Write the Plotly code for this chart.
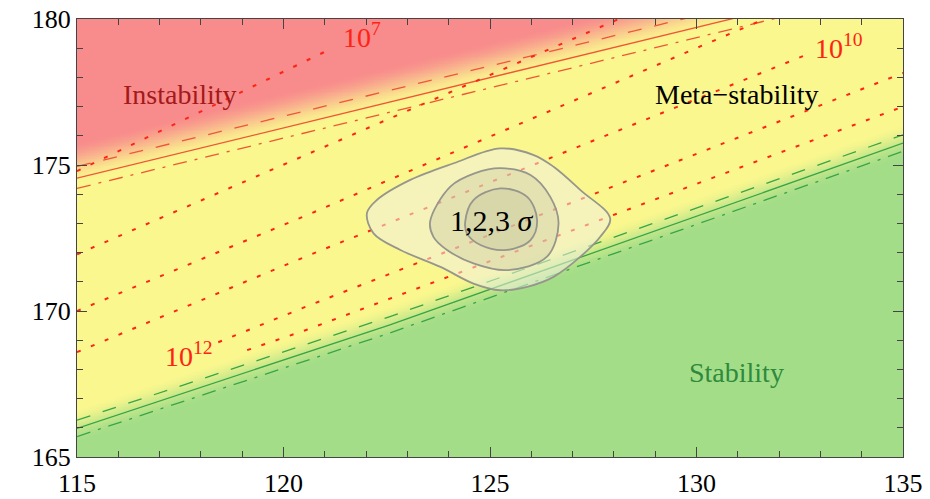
import numpy as np
import plotly.graph_objects as go

# ---------------- data ----------------
x_ticks = [115, 120, 125, 130, 135]
y_ticks = [165, 170, 175, 180]

# instability boundary (red) and its uncertainty band
red_x = [115, 132]
red_solid = [174.55, 180.40]
red_dash = [174.95, 180.80]
red_dashdot = [174.20, 180.05]

# absolute-stability boundary (green) and its uncertainty band
green_x = [115, 122.56, 135]
green_solid = [165.98, 169.52, 175.75]
green_dash = [166.26, 169.80, 176.03]
green_dashdot = [165.70, 169.24, 175.47]

# region edges used for the shaded background
unstable_edge_x = [115, 132]
unstable_edge_y = [175.10, 180.95]
stable_edge_x = [115, 122.56, 135]
stable_edge_y = [166.10, 169.64, 175.87]

# instability-scale contours (dotted)
lam7_x = [115, 121.21]
lam7_y = [174.79, 179.02]
lam8_x = [115, 127.14, 128.12]
lam8_y = [171.94, 179.40, 180.0]
lam9_x = [115, 120.48, 130.09, 131.65]
lam9_y = [170.0, 173.23, 179.06, 180.0]
lam10_x = [115, 120.53, 132.76]
lam10_y = [168.59, 171.86, 178.83]
lam11_x = [118.42, 120.53, 135]
lam11_y = [168.93, 170.14, 178.15]
lam12_x = [119.12, 120.53, 135]
lam12_y = [168.66, 169.34, 177.0]

# 1,2,3 sigma contours
s3_x = [122.02, 122.26, 123.07, 124.12, 125.25, 126.06, 126.54, 127.19, 127.91,
        127.67, 127.19, 126.54, 125.90, 125.25, 124.60, 123.80, 122.83, 122.18]
s3_y = [173.35, 173.80, 174.49, 175.06, 175.57, 175.34, 174.94, 174.14, 173.17,
        172.54, 171.86, 171.17, 170.83, 170.71, 170.94, 171.51, 172.09, 172.66]
s2_x = [123.55, 124.04, 124.64, 125.25, 125.98, 126.46, 126.66, 126.38, 125.41,
        124.60, 123.96, 123.63]
s2_y = [173.06, 174.26, 174.72, 174.89, 174.66, 173.91, 173.00, 171.86, 171.40,
        171.63, 172.09, 172.54]
s1_x = [124.40, 124.60, 125.25, 125.90, 126.14, 125.98, 125.41, 124.77, 124.44]
s1_y = [173.06, 173.80, 174.20, 173.91, 173.11, 172.43, 172.09, 172.26, 172.66]

# ---------------- styling ----------------
FONT = "Liberation Serif, Times New Roman, serif"
RED_LINE = "rgb(240,85,55)"
GREEN_LINE = "rgb(55,165,70)"
DOT_RED = "rgb(255,35,20)"
C_GREEN = "rgb(164,221,136)"
C_YELLOW = "rgb(250,247,142)"
C_RED = "rgb(248,139,140)"


def smooth(d, w):
    t = np.clip((d + w) / (2 * w), 0, 1)
    return t * t * (3 - 2 * t)


gx = np.linspace(115, 135, 401)
gy = np.linspace(165, 180, 301)
X, Y = np.meshgrid(gx, gy)
d_red = Y - np.interp(X, unstable_edge_x, unstable_edge_y)
d_green = Y - np.interp(X, stable_edge_x, stable_edge_y)
Z = 0.5 * smooth(d_green, 0.6) + 0.5 * smooth(d_red, 0.75)

fig = go.Figure()
fig.add_trace(go.Heatmap(x=gx, y=gy, z=Z, zmin=0, zmax=1, zsmooth="best",
                         colorscale=[[0, C_GREEN], [0.5, C_YELLOW], [1, C_RED]],
                         showscale=False, hoverinfo="skip"))


def line(x, y, color, dash=None, width=1.3):
    fig.add_trace(go.Scatter(x=x, y=y, mode="lines", hoverinfo="skip",
                             line=dict(color=color, width=width, dash=dash),
                             showlegend=False))


line(red_x, red_solid, RED_LINE)
line(red_x, red_dash, RED_LINE, "14px,13px")
line(red_x, red_dashdot, RED_LINE, "14px,8px,3px,8px")
line(green_x, green_solid, GREEN_LINE)
line(green_x, green_dash, GREEN_LINE, "14px,13px")
line(green_x, green_dashdot, GREEN_LINE, "14px,8px,3px,8px")

for lx, ly in [(lam7_x, lam7_y), (lam8_x, lam8_y), (lam9_x, lam9_y),
               (lam10_x, lam10_y), (lam11_x, lam11_y), (lam12_x, lam12_y)]:
    line(lx, ly, DOT_RED, "4px,11px", 2)

for sx, sy, fc in [(s3_x, s3_y, "rgba(240,240,222,0.55)"),
                   (s2_x, s2_y, "rgba(190,190,155,0.30)"),
                   (s1_x, s1_y, "rgba(190,190,155,0.30)")]:
    fig.add_trace(go.Scatter(x=sx + sx[:1], y=sy + sy[:1], mode="lines",
                             fill="toself", fillcolor=fc, hoverinfo="skip",
                             line=dict(color="rgb(150,150,140)", width=1.8,
                                       shape="spline", smoothing=1.0),
                             showlegend=False))

ann = [
    ("Instability", 117.50, 177.40, 28, "rgb(163,26,26)"),
    ("Meta\u2212stability", 130.99, 177.40, 28, "black"),
    ("Stability", 130.97, 167.90, 28, "rgb(46,138,60)"),
    ("1,2,3 <i>\u03c3</i>", 125.06, 173.11, 30, "black"),
    ("10<sup>7</sup>", 121.91, 179.43, 28, DOT_RED),
    ("10<sup>10</sup>", 133.44, 179.05, 28, DOT_RED),
    ("10<sup>12</sup>", 117.72, 168.52, 28, DOT_RED),
]
for t, ax_, ay_, sz, col in ann:
    fig.add_annotation(x=ax_, y=ay_, xref="x", yref="y", text=t, showarrow=False,
                       font=dict(family=FONT, size=sz, color=col))

axis_common = dict(showgrid=False, zeroline=False, showline=True, automargin=False,
                   ticklabeloverflow="allow",
                   linecolor="#444", linewidth=1.3, mirror="allticks",
                   ticks="inside", ticklen=10, tickwidth=1.1, tickcolor="#444",
                   tickfont=dict(family=FONT, size=26, color="black"))
fig.update_xaxes(range=[115, 135], tickvals=x_ticks, ticklabelstandoff=3,
                 minor=dict(ticks="inside", ticklen=6, dtick=1, tick0=115,
                            tickcolor="#444", tickwidth=1.1),
                 **axis_common)
fig.update_yaxes(range=[165, 180], tickvals=y_ticks, ticklabelstandoff=0,
                 minor=dict(ticks="inside", ticklen=6, dtick=1, tick0=165,
                            tickcolor="#444", tickwidth=1.1),
                 **axis_common)

fig.update_layout(width=930, height=499, margin=dict(l=77, r=27, t=19, b=42),
                  paper_bgcolor="white", plot_bgcolor="white", showlegend=False)

# remove the default page margin so the figure sits at the window origin
fig.write_html("out.html", config={"displayModeBar": False},
               post_script="document.body.style.margin='0';"
                           "document.body.style.overflow='hidden';")
